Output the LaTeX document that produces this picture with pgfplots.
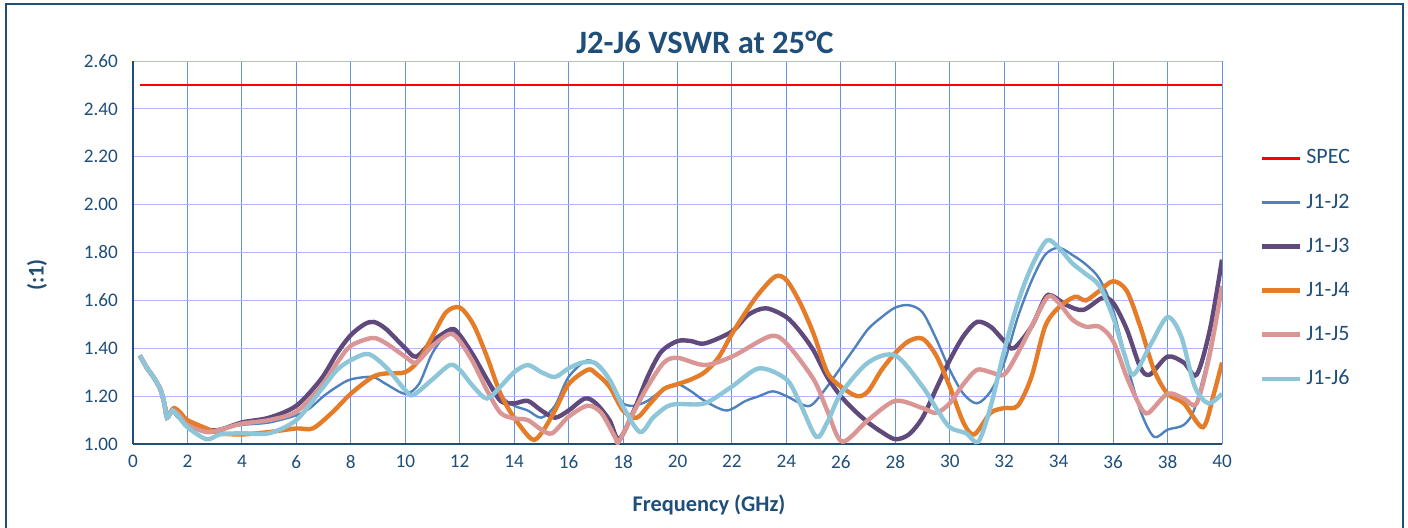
\documentclass[border=0pt]{standalone}
\usepackage{pgfplots}
\pgfplotsset{compat=1.18}
\usepackage{pgfplotstable}
\usepackage{fontspec}
\setmainfont{Carlito}

\definecolor{navy}{RGB}{31,78,121}
\definecolor{vgrid}{RGB}{100,149,220}
\definecolor{hgrid}{RGB}{180,180,255}
\definecolor{cjtwo}{RGB}{79,129,189}
\definecolor{cjthree}{RGB}{96,74,123}
\definecolor{cjfour}{RGB}{228,124,40}
\definecolor{cjfive}{RGB}{217,150,148}
\definecolor{cjsix}{RGB}{140,198,216}

\pgfplotstableread{
f v
0.25 2.5
40 2.5
}\spec

\pgfplotstableread{
f v
0.25 1.37
0.5 1.32
0.75 1.28
1.0 1.23
1.15 1.17
1.25 1.11
1.45 1.14
1.7 1.12
2.0 1.08
2.5 1.06
3.0 1.05
3.5 1.07
4.0 1.08
5.0 1.09
6.0 1.12
6.5 1.15
7.0 1.20
7.5 1.24
8.0 1.27
8.8 1.28
9.3 1.25
10.0 1.21
10.5 1.25
11.0 1.38
11.6 1.47
12.0 1.45
12.5 1.37
13.0 1.27
13.5 1.20
14.0 1.16
14.5 1.14
15.0 1.11
15.5 1.16
16.0 1.28
16.7 1.35
17.2 1.31
17.7 1.23
18.0 1.17
18.4 1.16
18.9 1.18
19.5 1.23
20.0 1.25
20.5 1.22
21.0 1.18
21.8 1.14
22.5 1.18
23.0 1.20
23.5 1.22
24.0 1.20
24.7 1.16
25.0 1.17
25.5 1.24
26.0 1.32
26.5 1.40
27.0 1.48
27.5 1.53
28.0 1.57
28.5 1.58
29.0 1.55
29.5 1.44
30.0 1.31
30.5 1.21
31.0 1.17
31.5 1.22
32.0 1.34
32.5 1.53
33.0 1.68
33.5 1.79
34.0 1.82
34.5 1.79
35.0 1.75
35.5 1.69
36.0 1.56
36.5 1.34
37.0 1.14
37.5 1.03
38.0 1.06
38.6 1.08
39.0 1.15
39.5 1.37
40.0 1.65
}\jtwo

\pgfplotstableread{
f v
0.25 1.37
0.5 1.32
0.75 1.28
1.0 1.23
1.15 1.17
1.25 1.11
1.45 1.14
1.7 1.11
2.0 1.09
2.7 1.06
3.2 1.06
4.0 1.09
5.0 1.11
6.0 1.16
6.9 1.27
7.5 1.38
8.0 1.455
8.5 1.50
8.85 1.51
9.3 1.48
10.0 1.40
10.4 1.365
11.0 1.43
11.7 1.48
12.0 1.455
12.5 1.37
13.0 1.27
13.5 1.18
14.0 1.17
14.5 1.18
15.0 1.14
15.5 1.11
16.0 1.14
16.6 1.19
17.0 1.17
17.5 1.10
17.85 1.02
18.4 1.14
18.9 1.28
19.4 1.385
20.0 1.43
20.5 1.43
21.0 1.42
22.0 1.47
22.6 1.54
23.25 1.567
24.0 1.53
24.5 1.47
25.0 1.39
25.5 1.28
26.0 1.20
26.5 1.14
27.0 1.09
27.5 1.05
28.0 1.02
28.5 1.04
29.0 1.11
29.5 1.23
30.0 1.35
30.5 1.45
31.0 1.51
31.5 1.49
32.0 1.43
32.35 1.40
33.0 1.49
33.5 1.61
33.75 1.62
34.3 1.58
34.9 1.56
35.6 1.61
36.0 1.59
36.5 1.48
37.0 1.32
37.35 1.29
38.0 1.365
38.6 1.34
39.07 1.29
39.56 1.48
40.0 1.77
}\jthree

\pgfplotstableread{
f v
0.25 1.37
0.5 1.32
0.75 1.28
1.0 1.23
1.15 1.17
1.25 1.12
1.5 1.15
1.75 1.13
2.0 1.10
2.7 1.065
3.2 1.045
4.0 1.04
5.0 1.05
6.0 1.065
6.6 1.065
7.3 1.13
8.0 1.21
8.8 1.28
9.3 1.295
10.0 1.30
10.5 1.35
11.0 1.45
11.5 1.55
12.0 1.57
12.5 1.50
13.0 1.365
13.5 1.21
14.0 1.11
14.65 1.02
15.0 1.045
15.5 1.14
16.0 1.25
16.7 1.31
17.0 1.295
17.5 1.24
18.0 1.14
18.5 1.11
19.0 1.17
19.5 1.23
20.0 1.25
20.5 1.27
21.0 1.30
21.5 1.36
22.0 1.46
22.5 1.55
23.0 1.63
23.6 1.70
24.0 1.685
24.5 1.59
25.0 1.46
25.5 1.30
26.0 1.24
26.6 1.20
27.0 1.22
27.5 1.31
28.0 1.38
28.5 1.43
29.0 1.44
29.5 1.37
30.0 1.24
30.5 1.09
30.9 1.04
31.5 1.13
32.0 1.15
32.5 1.16
33.0 1.28
33.5 1.49
34.0 1.57
34.6 1.615
35.0 1.60
35.5 1.64
36.0 1.68
36.5 1.64
37.0 1.49
37.5 1.31
38.0 1.21
38.6 1.17
39.3 1.07
39.7 1.21
40.0 1.34
}\jfour

\pgfplotstableread{
f v
0.25 1.37
0.5 1.32
0.75 1.28
1.0 1.23
1.15 1.17
1.25 1.11
1.45 1.14
1.7 1.12
2.0 1.08
2.7 1.05
3.2 1.06
4.0 1.085
5.0 1.10
6.0 1.135
6.9 1.24
7.5 1.34
8.0 1.41
8.8 1.443
9.3 1.42
10.0 1.365
10.4 1.34
11.0 1.41
11.64 1.46
12.0 1.43
12.5 1.34
13.0 1.225
13.5 1.13
14.0 1.107
14.5 1.10
15.0 1.06
15.4 1.045
16.0 1.114
16.7 1.16
17.2 1.13
17.7 1.03
17.85 1.01
18.4 1.135
18.9 1.24
19.5 1.34
20.0 1.36
21.0 1.33
22.0 1.365
23.4 1.45
24.0 1.42
25.0 1.27
25.5 1.14
26.05 1.01
27.0 1.10
28.0 1.18
29.0 1.15
29.5 1.13
30.0 1.17
30.5 1.25
31.0 1.31
31.5 1.30
32.0 1.29
32.5 1.38
33.0 1.49
33.6 1.615
34.0 1.59
34.5 1.52
35.0 1.49
35.5 1.49
36.0 1.43
36.5 1.28
37.0 1.156
37.3 1.13
38.0 1.21
38.6 1.19
39.07 1.17
39.56 1.38
40.0 1.66
}\jfive

\pgfplotstableread{
f v
0.25 1.37
0.5 1.32
0.75 1.28
1.0 1.23
1.15 1.17
1.25 1.11
1.45 1.14
1.7 1.11
2.0 1.07
2.7 1.02
3.2 1.04
4.0 1.045
5.0 1.045
6.0 1.10
6.9 1.225
7.5 1.31
8.0 1.35
8.64 1.376
9.3 1.32
10.0 1.225
10.3 1.205
11.0 1.27
11.64 1.33
12.0 1.31
12.5 1.24
13.0 1.19
13.5 1.24
14.0 1.30
14.5 1.33
15.0 1.30
15.5 1.28
16.0 1.316
16.5 1.34
17.0 1.337
17.5 1.27
18.0 1.156
18.62 1.05
19.1 1.11
19.6 1.156
20.0 1.167
21.0 1.17
22.0 1.24
23.0 1.316
24.0 1.27
24.5 1.17
25.1 1.03
25.5 1.09
26.0 1.21
27.0 1.34
28.0 1.37
29.0 1.24
29.5 1.15
30.0 1.07
30.6 1.045
31.05 1.01
31.5 1.156
32.0 1.39
32.5 1.59
33.0 1.74
33.56 1.85
34.0 1.82
34.5 1.755
35.0 1.71
35.5 1.66
36.0 1.53
36.4 1.38
36.75 1.29
37.4 1.42
38.0 1.53
38.5 1.45
39.0 1.24
39.5 1.17
40.0 1.21
}\jsix

\begin{document}
\begin{tikzpicture}
\useasboundingbox (0,0) rectangle (704pt,263.5pt);
\draw[navy, line width=1pt] (3pt,-5pt) -- (3pt,261.5pt) -- (701.5pt,261.5pt) -- (701.5pt,-5pt);

\begin{axis}[
    at={(66.5pt,41.5pt)}, anchor=south west,
    scale only axis,
    width=544.5pt, height=191.5pt,
    xmin=0, xmax=40, ymin=1, ymax=2.6,
    xtick={0,2,...,40},
    ytick={1.0,1.2,1.4,1.6,1.8,2.0,2.2,2.4,2.6},
    axis x line=bottom, axis y line=left,
    axis line style={-, navy, line width=1pt},
    major tick length=0pt,
    xmajorgrids, ymajorgrids,
    x grid style={vgrid, line width=0.5pt},
    y grid style={hgrid, line width=0.5pt},
    ticklabel style={font=\fontsize{9.6}{11}\selectfont, text=navy},
    /pgf/number format/assume math mode=true,
    y tick label style={/pgf/number format/.cd, fixed, fixed zerofill, precision=2},
    x tick label style={/pgf/number format/.cd, fixed, precision=0},
    xticklabel shift=2pt, yticklabel shift=4pt,
    clip=true,
    legend style={draw=none, fill=none, at={(1.0345,0.780)}, anchor=north west,
        font=\fontsize{11}{12}\selectfont, text=navy, row sep=9.4pt,
        inner sep=0pt},
    legend cell align=left,
    legend image code/.code={\draw[#1] (0pt,0pt) -- (19pt,0pt);},
    every axis plot/.append style={smooth, tension=0.5},
]
\addplot[red, line width=1.4pt, sharp plot] table[x=f, y=v] {\spec};
\addplot[cjtwo, line width=1.2pt] table[x=f, y=v] {\jtwo};
\addplot[cjthree, line width=2.2pt] table[x=f, y=v] {\jthree};
\addplot[cjfour, line width=2.2pt] table[x=f, y=v] {\jfour};
\addplot[cjfive, line width=2.2pt] table[x=f, y=v] {\jfive};
\addplot[cjsix, line width=2.2pt] table[x=f, y=v] {\jsix};
\legend{SPEC, J1-J2, J1-J3, J1-J4, J1-J5, J1-J6}
\end{axis}

\node[text=navy, font=\fontsize{16.3}{19}\selectfont\bfseries] at (352.5pt,242.5pt) {J2-J6 VSWR at 25°C};
\node[text=navy, font=\fontsize{11.2}{13}\selectfont\bfseries] at (354.5pt,11pt) {Frequency (GHz)};
\node[text=navy, font=\fontsize{11.2}{13}\selectfont\bfseries, rotate=90] at (18.5pt,126pt) {(:1)};
\end{tikzpicture}
\end{document}
